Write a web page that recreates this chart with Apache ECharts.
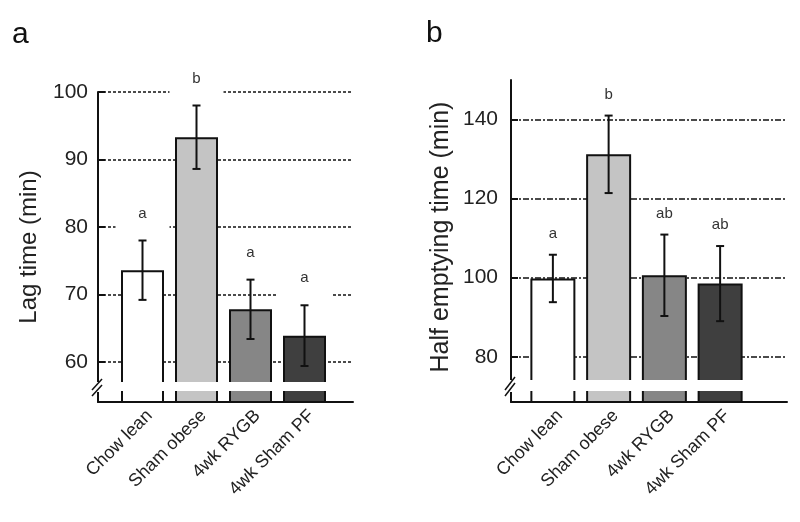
<!DOCTYPE html>
<html><head><meta charset="utf-8">
<script src="https://cdn.jsdelivr.net/npm/echarts@6/dist/echarts.min.js"></script>
<style>html,body{margin:0;padding:0;background:#fff}#c{width:800px;height:522px}</style>
</head><body><div id="c"></div>
<script>
// ---- data ----
const categories = ['Chow lean', 'Sham obese', '4wk RYGB', '4wk Sham PF'];
const lagMean = [73.6, 93.3, 67.8, 63.9];
const lagSem = [4.4, 4.7, 4.4, 4.5];
const lagLetters = ['a', 'b', 'a', 'a'];
const lagTicks = [60, 70, 80, 90, 100];
const halfMean = [99.8, 131.2, 100.6, 98.5];
const halfSem = [6.0, 9.8, 10.3, 9.5];
const halfLetters = ['a', 'b', 'ab', 'ab'];
const halfTicks = [80, 100, 120, 140];
const barColors = ['#ffffff', '#c4c4c4', '#868686', '#3f3f3f'];

const FONT = 'Arial, "Liberation Sans", sans-serif';
const chart = echarts.init(document.getElementById('c'));

const panels = [
  { axisLeft: 98, axisRight: 353, top: 92, bottom: 402, barLeft: 115.5, barRight: 331.5,
    min: 54.07, max: 100, ticks: lagTicks, mean: lagMean, sem: lagSem, letters: lagLetters,
    name: 'Lag time (min)', nameSize: 24, namePad: [0, 0, 0, 0], lineType: [3, 2], barWidth: 43, letterOffset: 27, letterBox: true,
    labelMargin: 10, nameGap: 57, gapTop: 382, gapBot: 391 },
  { axisLeft: 511, axisRight: 787, top: 80, bottom: 402, barLeft: 525, barRight: 748,
    min: 68.55, max: 150, ticks: halfTicks, mean: halfMean, sem: halfSem, letters: halfLetters,
    name: 'Half emptying time (min)', nameSize: 25, namePad: [0, 0, 0, 8], lineType: [6, 2, 2, 2], barWidth: 45, letterOffset: 21, letterBox: false,
    labelMargin: 13, nameGap: 57, gapTop: 380, gapBot: 391 }
];

const LABEL_SHIFT = 7;
const grid = [], xAxis = [], yAxis = [], series = [], graphic = [];
panels.forEach((p, k) => {
  const ga = k * 3, gb = k * 3 + 1, gc = k * 3 + 2;
  const h = p.bottom - p.top;
  grid.push({ left: p.axisLeft, top: p.top, width: p.axisRight - p.axisLeft, height: h });
  grid.push({ left: p.barLeft, top: p.top, width: p.barRight - p.barLeft, height: h });
  grid.push({ left: p.barLeft + LABEL_SHIFT, top: p.top, width: p.barRight - p.barLeft, height: h });
  xAxis.push({ type: 'value', gridIndex: ga, min: 0, max: 1,
    axisLine: { show: true, lineStyle: { color: '#111', width: 2 } },
    axisTick: { show: false }, axisLabel: { show: false }, splitLine: { show: false } });
  xAxis.push({ type: 'category', gridIndex: gb, data: categories,
    axisLine: { show: false }, axisTick: { show: false }, axisLabel: { show: false } });
  xAxis.push({ type: 'category', gridIndex: gc, data: categories,
    axisLine: { show: false }, axisTick: { show: false },
    axisLabel: { rotate: 45, fontSize: 18, fontFamily: FONT, color: '#222', margin: 11, interval: 0 } });
  yAxis.push({ type: 'value', gridIndex: ga, min: p.min, max: p.max,
    name: p.name, nameLocation: 'middle', nameGap: p.nameGap, nameRotate: 90,
    nameTextStyle: { fontSize: p.nameSize, fontFamily: FONT, color: '#222', padding: p.namePad },
    axisLine: { show: true, lineStyle: { color: '#111', width: 2 } },
    axisTick: { show: true, inside: true, length: 7, customValues: p.ticks, lineStyle: { color: '#111', width: 2 } },
    axisLabel: { customValues: p.ticks, fontSize: 21, fontFamily: FONT, color: '#222', margin: p.labelMargin },
    splitLine: { show: true, lineStyle: { color: '#111', width: 1.5, type: p.lineType } } });
  yAxis.push({ type: 'value', gridIndex: gb, min: p.min, max: p.max, show: false });
  yAxis.push({ type: 'value', gridIndex: gc, min: p.min, max: p.max, show: false });

  series.push({ type: 'bar', xAxisIndex: gb, yAxisIndex: gb, barWidth: p.barWidth,
    data: p.mean.map((v, i) => ({ value: v, itemStyle: { color: barColors[i] } })),
    itemStyle: { borderColor: '#111', borderWidth: 2 }, z: 2 });
  series.push({ type: 'custom', xAxisIndex: gb, yAxisIndex: gb, z: 3,
    data: p.mean.map((v, i) => [i, v, p.sem[i]]),
    renderItem: function (params, api) {
      const i = api.value(0), m = api.value(1), s = api.value(2);
      const t = api.coord([i, m + s]), b = api.coord([i, m - s]);
      const x = t[0], cap = 4;
      const st = { stroke: '#111', lineWidth: 2 };
      const children = [
        { type: 'line', shape: { x1: x, y1: t[1], x2: x, y2: b[1] }, style: st },
        { type: 'line', shape: { x1: x - cap, y1: t[1], x2: x + cap, y2: t[1] }, style: st },
        { type: 'line', shape: { x1: x - cap, y1: b[1], x2: x + cap, y2: b[1] }, style: st }
      ];
      const cy = t[1] - p.letterOffset;
      if (p.letterBox) children.push({ type: 'rect', shape: { x: x - 27, y: cy - 10, width: 54, height: 34 }, style: { fill: '#fff' } });
      children.push({ type: 'text', style: { text: p.letters[params.dataIndex], x: x, y: cy, align: 'center', verticalAlign: 'middle', fontSize: 15, fontFamily: FONT, fill: '#333' } });
      return { type: 'group', children: children };
    } });

  // axis break decoration
  graphic.push({ type: 'rect', z: 100, shape: { x: p.barLeft - 2, y: p.gapTop, width: p.barRight - p.barLeft + 6, height: p.gapBot - p.gapTop }, style: { fill: '#fff' } });
  graphic.push({ type: 'rect', z: 100, shape: { x: p.axisLeft - 3, y: p.gapTop, width: 6, height: p.gapBot - p.gapTop + 1 }, style: { fill: '#fff' } });
  graphic.push({ type: 'line', z: 101, shape: { x1: p.axisLeft - 6, y1: p.gapBot - 1, x2: p.axisLeft + 4, y2: p.gapTop - 3 }, style: { stroke: '#111', lineWidth: 1.5 } });
  graphic.push({ type: 'line', z: 101, shape: { x1: p.axisLeft - 6, y1: p.gapBot + 5, x2: p.axisLeft + 4, y2: p.gapTop + 3 }, style: { stroke: '#111', lineWidth: 1.5 } });
});

chart.setOption({
  animation: false,
  backgroundColor: '#fff',
  title: [
    { text: 'a', left: 12, top: 20, padding: 0, textStyle: { fontSize: 30, fontWeight: 'normal', fontFamily: FONT, color: '#111' } },
    { text: 'b', left: 426, top: 19, padding: 0, textStyle: { fontSize: 30, fontWeight: 'normal', fontFamily: FONT, color: '#111' } }
  ],
  grid: grid, xAxis: xAxis, yAxis: yAxis, series: series, graphic: graphic
});
</script></body></html>
